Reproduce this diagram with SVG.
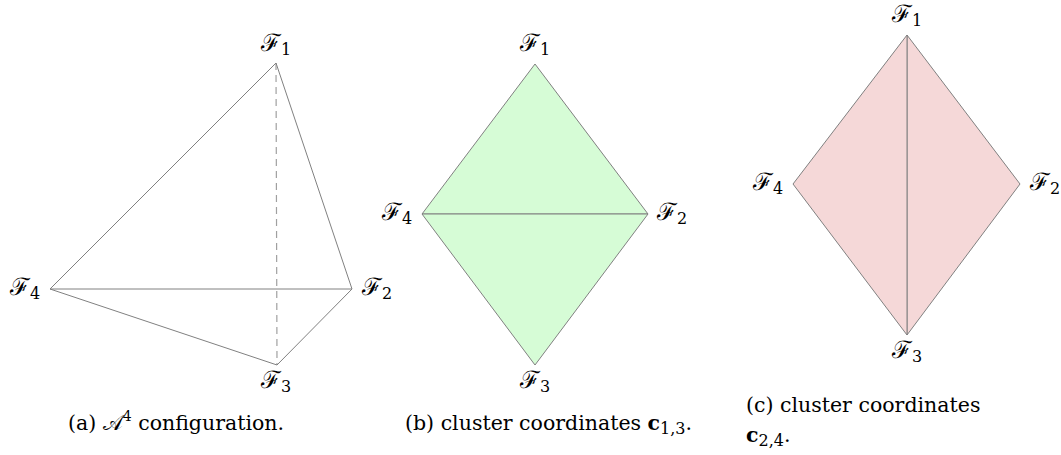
<svg xmlns="http://www.w3.org/2000/svg" width="1061" height="455" viewBox="0 0 1061 455">
<style>
.lbl{font-family:'DejaVu Serif',serif;font-size:24px;fill:#000;text-anchor:middle}
.sub{font-size:16px}
.cap{font-family:'DejaVu Serif',serif;font-size:20.5px;fill:#000}
.edge{stroke:#808080;stroke-width:1;fill:none}
.dash{stroke:#a0a0a0;stroke-width:1.2;stroke-dasharray:7,5;fill:none}
</style>
<rect width="1061" height="455" fill="#fff"/>
<!-- Panel a -->
<g id="panel-a">
<g id="a-edges">
<line class="dash" x1="276" y1="63" x2="277" y2="365"/>
<polyline class="edge" points="50,289 276,63 352,289 50,289 277,365 352,289"/>
</g>
<g id="a-F1"><text class="lbl" x="276" y="51">ℱ<tspan class="sub" dy="4">1</tspan></text></g>
<g id="a-F4"><text class="lbl" x="25" y="295">ℱ<tspan class="sub" dy="4">4</tspan></text></g>
<g id="a-F2"><text class="lbl" x="377" y="295">ℱ<tspan class="sub" dy="4">2</tspan></text></g>
<g id="a-F3"><text class="lbl" x="276" y="388">ℱ<tspan class="sub" dy="4">3</tspan></text></g>
<text class="cap" x="68" y="430">(a) 𝒜<tspan font-size="14" dy="-9">4</tspan><tspan dy="9"> configuration.</tspan></text>
</g>
<!-- Panel b -->
<g id="panel-b">
<g id="b-edges">
<polygon points="535,64 648,214 422,214" fill="#d6fcd6" stroke="#808080" stroke-width="1"/>
<polygon points="422,214 648,214 535,365" fill="#d6fcd6" stroke="#808080" stroke-width="1"/>
</g>
<g id="b-F1"><text class="lbl" x="535" y="51">ℱ<tspan class="sub" dy="4">1</tspan></text></g>
<g id="b-F4"><text class="lbl" x="397" y="220">ℱ<tspan class="sub" dy="4">4</tspan></text></g>
<g id="b-F2"><text class="lbl" x="672" y="220">ℱ<tspan class="sub" dy="4">2</tspan></text></g>
<g id="b-F3"><text class="lbl" x="535" y="388">ℱ<tspan class="sub" dy="4">3</tspan></text></g>
<text class="cap" x="405" y="430">(b) cluster coordinates <tspan font-weight="bold">c</tspan><tspan font-size="16" dy="4">1,3</tspan><tspan dy="-4">.</tspan></text>
</g>
<!-- Panel c -->
<g id="panel-c">
<g id="c-edges">
<polygon points="907,35 1020,184 907,335" fill="#f5d8d8" stroke="#808080" stroke-width="1"/>
<polygon points="907,35 793,184 907,335" fill="#f5d8d8" stroke="#808080" stroke-width="1"/>
</g>
<g id="c-F1"><text class="lbl" x="907" y="22">ℱ<tspan class="sub" dy="4">1</tspan></text></g>
<g id="c-F4"><text class="lbl" x="768" y="190">ℱ<tspan class="sub" dy="4">4</tspan></text></g>
<g id="c-F2"><text class="lbl" x="1045" y="190">ℱ<tspan class="sub" dy="4">2</tspan></text></g>
<g id="c-F3"><text class="lbl" x="907" y="358">ℱ<tspan class="sub" dy="4">3</tspan></text></g>
<text class="cap" x="746" y="412">(c) cluster coordinates</text>
<text class="cap" x="746" y="442"><tspan font-weight="bold">c</tspan><tspan font-size="16" dy="4">2,4</tspan><tspan dy="-4">.</tspan></text>
</g>
</svg>
